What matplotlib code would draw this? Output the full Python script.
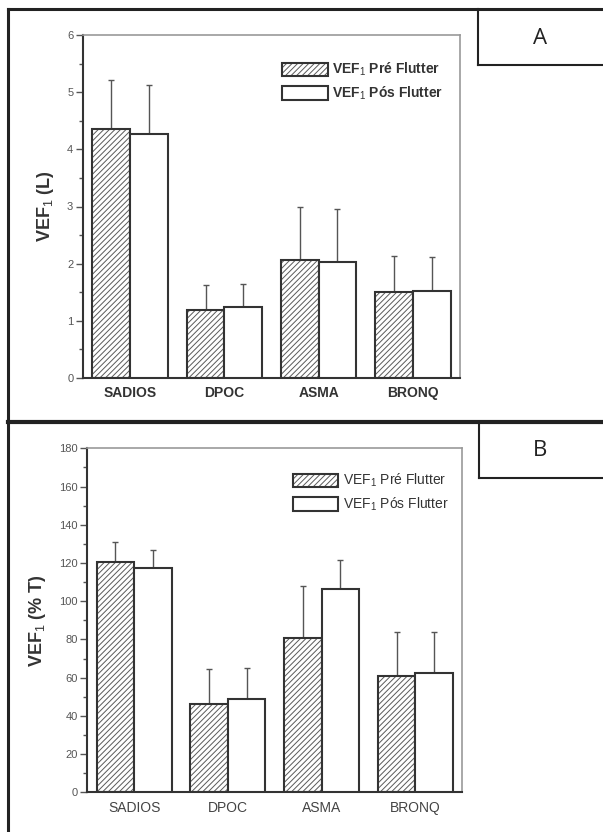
import matplotlib.pyplot as plt
import numpy as np
from matplotlib.patches import Rectangle
from matplotlib.lines import Line2D

plt.rcParams['font.family'] = ['Liberation Sans', 'DejaVu Sans']
plt.rcParams['mathtext.fontset'] = 'custom'
plt.rcParams['mathtext.rm'] = 'Liberation Sans'
plt.rcParams['mathtext.bf'] = 'Liberation Sans:bold'
plt.rcParams['hatch.linewidth'] = 0.7

groups = ["SADIOS", "DPOC", "ASMA", "BRONQ"]

# panel A: VEF1 in litres
a_pre = [4.36, 1.19, 2.06, 1.50]
a_pre_sd = [0.85, 0.44, 0.93, 0.63]
a_pos = [4.26, 1.24, 2.03, 1.52]
a_pos_sd = [0.87, 0.40, 0.93, 0.59]

# panel B: VEF1 in % of predicted
b_pre = [120.5, 46.4, 80.9, 61.0]
b_pre_sd = [10.5, 18.1, 27.2, 23.1]
b_pos = [117.6, 48.7, 106.6, 62.3]
b_pos_sd = [9.2, 16.2, 15.1, 21.8]

W, H = 603, 832
fig = plt.figure(figsize=(W / 100, H / 100), dpi=100)


def px_axes(left, top, right, bottom):
    return fig.add_axes([left / W, 1 - bottom / H, (right - left) / W, (bottom - top) / H])


def draw_panel(ax, pre, pre_sd, pos, pos_sd, ymax, major, minor, ylabel, bold_x, legend_xy):
    x = np.arange(1, len(groups) + 1)
    w = 0.4
    dark = '#333333'
    hatch_c = '#5a5a5a'
    # error bars (upper only)
    ax.errorbar(x - w / 2, pre, yerr=[np.zeros(4), pre_sd], fmt='none', ecolor='#555555',
                elinewidth=1, capsize=2.5, capthick=1, zorder=1)
    ax.errorbar(x + w / 2, pos, yerr=[np.zeros(4), pos_sd], fmt='none', ecolor='#555555',
                elinewidth=1, capsize=2.5, capthick=1, zorder=1)
    ax.bar(x - w / 2, pre, w, color='white', edgecolor=hatch_c, hatch='//////', linewidth=0, zorder=2)
    ax.bar(x - w / 2, pre, w, fill=False, edgecolor=dark, linewidth=1.5, zorder=3)
    ax.bar(x + w / 2, pos, w, color='white', edgecolor=dark, linewidth=1.5, zorder=3)

    ax.set_xlim(0.5, 4.5)
    ax.set_ylim(0, ymax)
    ax.set_xticks(x)
    ax.set_xticklabels(groups, fontsize=10, fontweight='bold' if bold_x else 'normal',
                       color='#333333' if bold_x else '#444444')
    ax.set_yticks(np.arange(0, ymax + major / 2, major))
    ax.set_yticks(np.arange(0, ymax + minor / 2, minor), minor=True)
    ax.tick_params(axis='x', length=0, pad=6)
    ax.tick_params(axis='y', which='major', length=5, width=1, color='#555555',
                   labelsize=8, labelcolor='#555555', pad=2)
    ax.tick_params(axis='y', which='minor', length=3, width=1, color='#555555')
    ax.spines['left'].set_color(dark)
    ax.spines['bottom'].set_color(dark)
    ax.spines['left'].set_linewidth(1.5)
    ax.spines['bottom'].set_linewidth(1.5)
    ax.spines['top'].set_color('#999999')
    ax.spines['right'].set_color('#999999')
    ax.spines['top'].set_linewidth(1.2)
    ax.spines['right'].set_linewidth(1.2)
    ax.set_ylabel(ylabel, fontsize=13, fontweight='bold', color='#333333', labelpad=8)

    h_pre = (Rectangle((0, 0), 1, 1, facecolor='white', edgecolor=hatch_c, hatch='//////', linewidth=0),
             Rectangle((0, 0), 1, 1, fill=False, edgecolor=dark, linewidth=1.5))
    h_pos = Rectangle((0, 0), 1, 1, facecolor='white', edgecolor=dark, linewidth=1.5)
    leg = ax.legend([h_pre, h_pos],
                    [r'VEF$_{1}$ Pré Flutter', r'VEF$_{1}$ Pós Flutter'],
                    loc='upper left', bbox_to_anchor=legend_xy, frameon=False,
                    handlelength=3.3, handleheight=1.1, handletextpad=0.3,
                    labelspacing=0.45, borderpad=0,
                    prop={'size': 10, 'weight': 'bold' if bold_x else 'normal'})
    for t in leg.get_texts():
        t.set_color('#333333')


axA = px_axes(83, 35, 460, 378)
draw_panel(axA, a_pre, a_pre_sd, a_pos, a_pos_sd, 6, 1, 0.5, r'VEF$_{1}$ (L)', True,
           ((275 - 83) / 377, (378 - 54) / 343))

axB = px_axes(87.3, 448.3, 462.3, 792.3)
draw_panel(axB, b_pre, b_pre_sd, b_pos, b_pos_sd, 180, 20, 10, r'VEF$_{1}$ (% T)', False,
           ((285.7 - 87.3) / 375, (792.3 - 465) / 344))


def fig_line(xs, ys, lw=2.2):
    fig.add_artist(Line2D([x / W for x in xs], [1 - y / H for y in ys],
                          color='#222222', linewidth=lw, transform=fig.transFigure))


# outer panel frames
fig_line([8, 603], [9, 9])
fig_line([8, 8], [9, 832])
fig_line([8, 603], [422, 422], lw=3)
# label boxes
fig_line([478, 478], [9, 65], lw=1.5)
fig_line([478, 603], [65, 65], lw=1.5)
fig_line([479, 479], [422, 478], lw=1.5)
fig_line([479, 603], [478, 478], lw=1.5)

fig.text(540 / W, 1 - 38 / H, 'A', fontsize=16, family='Open Sans', ha='center', va='center', color='#222222')
fig.text(540 / W, 1 - 451 / H, 'B', fontsize=16, family='Open Sans', ha='center', va='center', color='#222222')

fig.savefig('out.png', dpi=100)
